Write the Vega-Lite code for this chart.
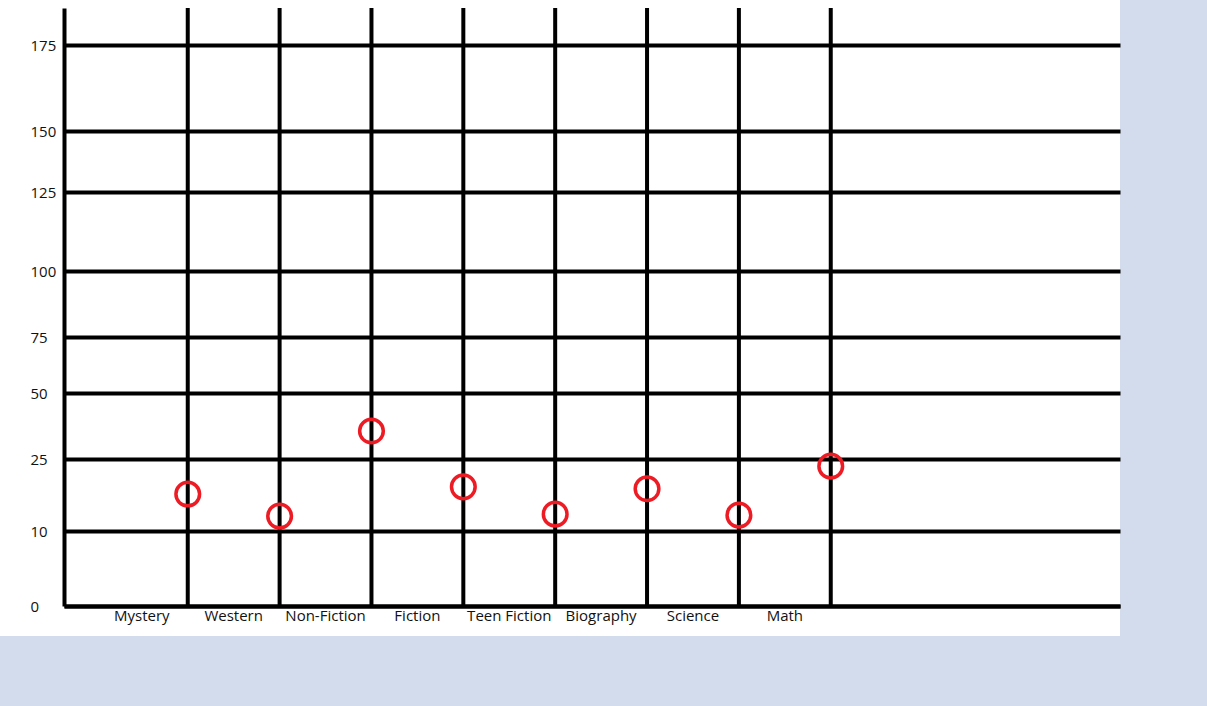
{
  "$schema": "https://vega.github.io/schema/vega-lite/v6.json",
  "width": 1120,
  "height": 636,
  "autosize": {"type": "none"},
  "padding": {"left": 0, "top": 0, "right": 87, "bottom": 70},
  "background": "#d3dcec",
  "config": {"view": {"fill": "white", "stroke": null}},
  "data": {
    "values": [
      {"genre": "Mystery", "value": 17.7},
      {"genre": "Western", "value": 13.1},
      {"genre": "Non-Fiction", "value": 35.6},
      {"genre": "Fiction", "value": 19.2},
      {"genre": "Teen Fiction", "value": 13.5},
      {"genre": "Biography", "value": 18.8},
      {"genre": "Science", "value": 13.3},
      {"genre": "Math", "value": 23.5}
    ]
  },
  "encoding": {
    "x": {
      "field": "genre",
      "type": "nominal",
      "sort": null,
      "bandPosition": 1,
      "scale": {
        "type": "band",
        "domain": ["Mystery", "Western", "Non-Fiction", "Fiction", "Teen Fiction", "Biography", "Science", "Math", " ", "  ", "   "],
        "range": [64, 1120],
        "paddingInner": 0,
        "paddingOuter": 0.248,
        "align": 0.7
      },
      "axis": {
        "orient": "bottom",
        "offset": -30,
        "title": null,
        "grid": false,
        "domain": true,
        "domainColor": "#000000",
        "domainWidth": 4,
        "ticks": false,
        "tickSize": 0,
        "labelAngle": 0,
        "labelBaseline": "top",
        "labelPadding": 2,
        "labelFont": "Open Sans",
        "labelFontSize": 15,
        "labelColor": "#111111",
        "labelOverlap": false
      }
    }
  },
  "layer": [
    {
      "mark": {"type": "rule", "stroke": "#000000", "strokeWidth": 4},
      "encoding": {
        "y": {"datum": 0, "type": "quantitative"},
        "y2": {"datum": 190}
      }
    },
    {
      "mark": {"type": "point", "shape": "circle", "filled": false, "stroke": "#ed1c24", "strokeWidth": 3.5, "size": 560, "opacity": 1},
      "encoding": {
        "y": {
          "field": "value",
          "type": "quantitative",
          "scale": {
            "type": "linear",
            "domain": [0, 10, 25, 50, 75, 100, 125, 150, 175, 190],
            "range": [606, 531, 459, 393, 337, 271, 192, 131, 45, 8],
            "nice": false,
            "zero": false
          },
          "axis": {
            "orient": "left",
            "offset": -64,
            "title": null,
            "values": [0, 10, 25, 50, 75, 100, 125, 150, 175],
            "grid": true,
            "gridColor": "#000000",
            "gridWidth": 4,
            "gridOpacity": 1,
            "domain": true,
            "domainColor": "#000000",
            "domainWidth": 4,
            "ticks": false,
            "tickSize": 0,
            "labelAlign": "left",
            "labelPadding": 34,
            "labelDy": -4,
            "labelFont": "Open Sans",
            "labelFontSize": 15,
            "labelColor": "#111111",
            "labelFlush": false,
            "labelOverlap": false
          }
        }
      }
    }
  ]
}
